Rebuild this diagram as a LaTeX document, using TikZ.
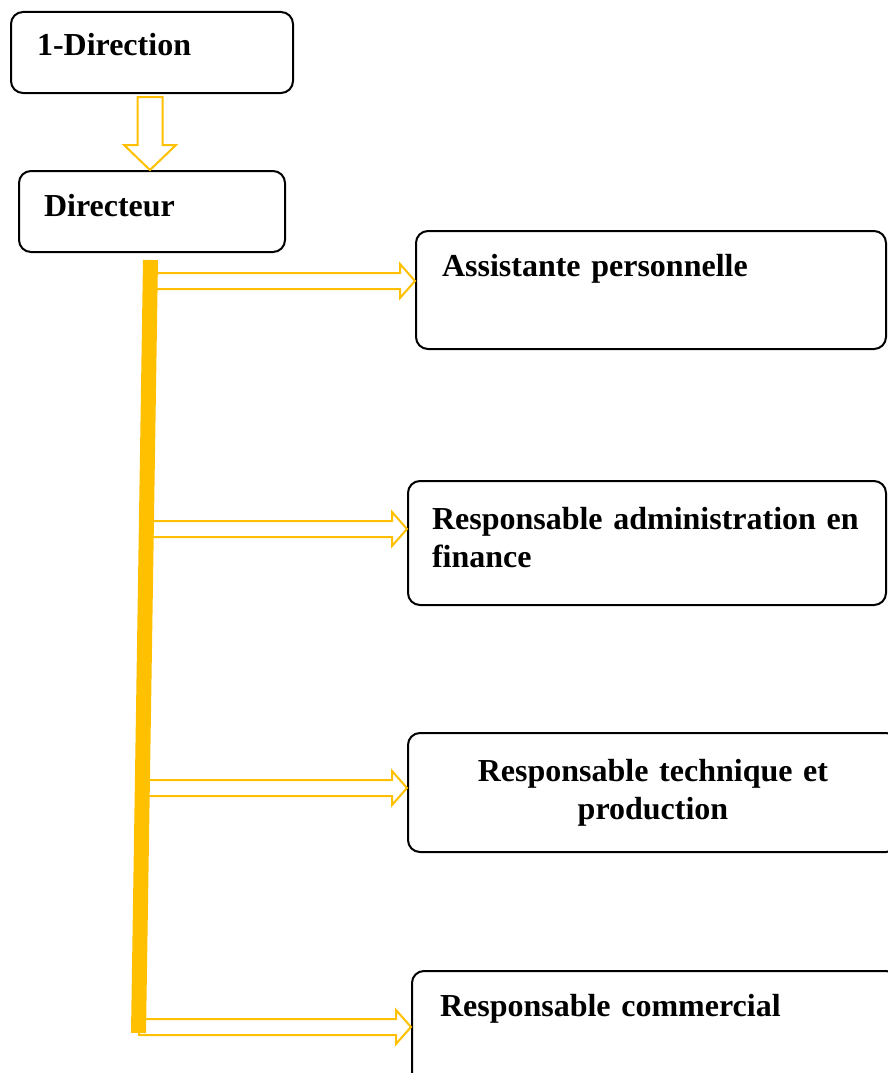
\documentclass[tikz,border=0pt]{standalone}
\usepackage{fontspec}
\setmainfont{Liberation Serif}
\usetikzlibrary{calc}
\definecolor{gold}{HTML}{FFC000}
\tikzset{
  orgbox/.style={draw, line width=2pt, rounded corners=12pt, anchor=north west, inner ysep=0pt, align=left, font=\bfseries\fontsize{32}{38}\selectfont},
  hollow/.style={draw=gold, line width=2pt, fill=white, line join=miter},
}
% hollow block arrow pointing right: start, target
\newcommand{\hollowright}[2]{\draw[hollow] let \p1=(#1), \p2=(#2) in (\x1,\y1+8pt)--(\x2-15pt,\y1+8pt)--(\x2-15pt,\y1+17pt)--(\x2,\y1)--(\x2-15pt,\y1-17pt)--(\x2-15pt,\y1-8pt)--(\x1,\y1-8pt)--cycle;}
\begin{document}
\begin{tikzpicture}[x=1pt, y=-1pt, line cap=round]
  \useasboundingbox (0,0) rectangle (887,1073);
  \node[orgbox, inner xsep=26pt, text width=230pt, text height=44pt, text depth=37pt] (dir) at (10,11) {1-Direction};
  \node[orgbox, inner xsep=25pt, text width=216pt, text height=45pt, text depth=36pt] (directeur) at (18,170) {Directeur};
  \node[orgbox, inner xsep=26pt, text width=418pt, text height=45pt, text depth=73pt] (assist) at (415,230) {Assistante personnelle};
  \node[orgbox, inner xsep=24pt, text width=430pt, text height=48pt, text depth=76pt] (admin) at (407,480) {Responsable administration en\\finance};
  \node[orgbox, align=center, inner xsep=20pt, text width=450pt, text height=48pt, text depth=71pt] (tech) at (407,732) {Responsable technique et\\production};
  \node[orgbox, inner xsep=28pt, text width=430pt, text height=45pt, text depth=80pt] (comm) at (411,970) {Responsable commercial};
  % arrow Direction -> Directeur
  \draw[hollow] let \p1=($(dir.south)+(-2,3)$), \p2=(\p1 |- directeur.north) in (\x1-12.5pt,\y1)--(\x1-12.5pt,\y2+25pt)--(\x1-26pt,\y2+25pt)--(\x2,\y2)--(\x1+26pt,\y2+25pt)--(\x1+12.5pt,\y2+25pt)--(\x1+12.5pt,\y1)--cycle;
  % branches
  \foreach \b/\sx/\sy in {assist/150/281,admin/146/529,tech/142/788,comm/139/1027}
    \hollowright{\sx,\sy}{\b.west};
  % trunk
  \coordinate (bartop) at (150.5,260);
  \coordinate (barbot) at (138.5,1033);
  \draw[gold, line width=15pt, line cap=butt] (bartop)--(barbot);
\end{tikzpicture}
\end{document}
